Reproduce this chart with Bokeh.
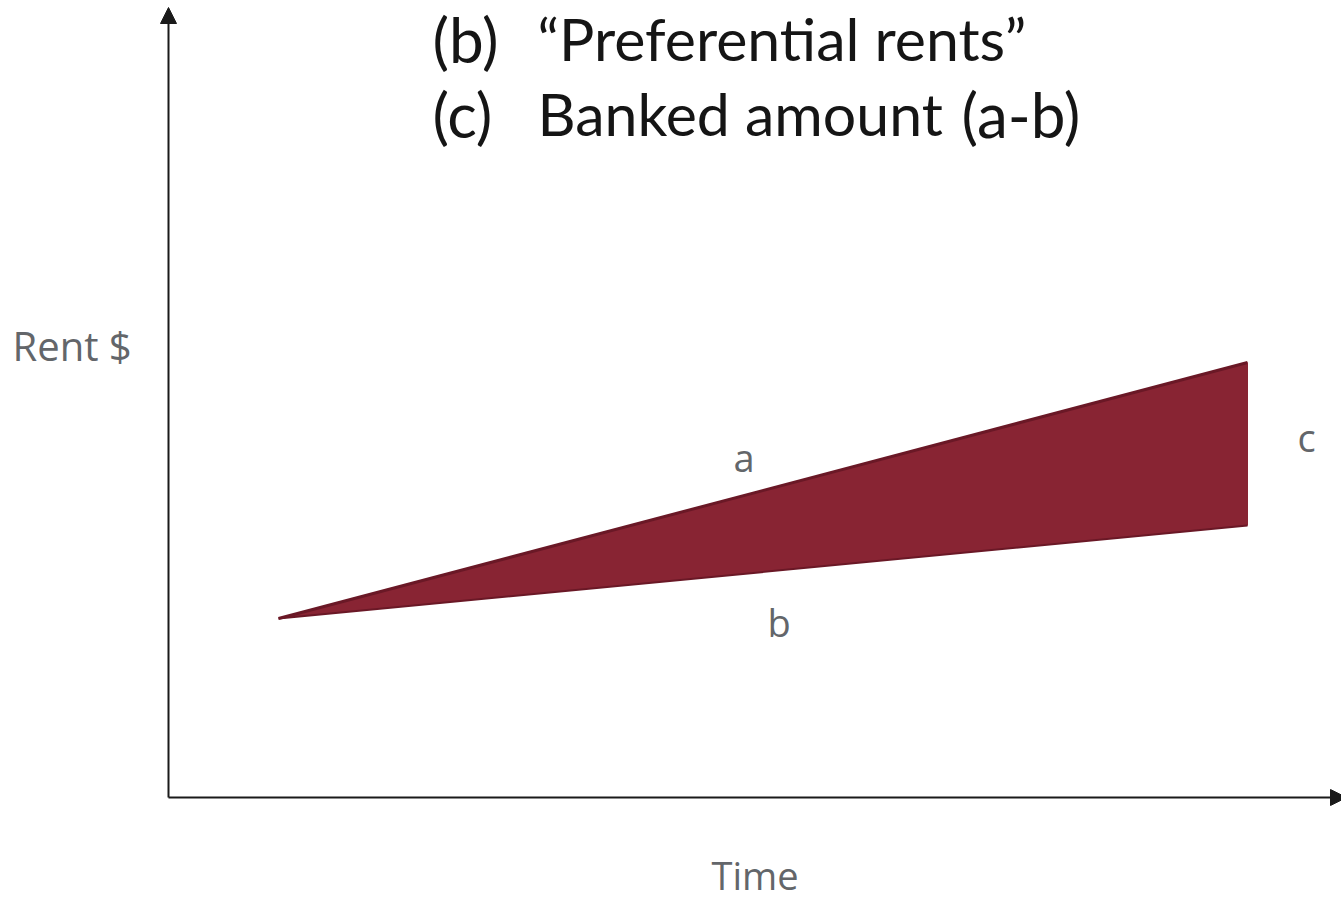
from bokeh.plotting import figure
from bokeh.models import Range1d, Arrow, NormalHead
from bokeh.core.properties import value
from bokeh.embed import file_html
from bokeh.resources import INLINE

# ---- data (abstract units: origin at the axes' crossing) ----
time = [1.10, 10.79]          # start and end of the period
rent_a = [1.79, 4.35]         # (a) market rent
rent_b = [1.79, 2.72]         # (b) preferential rent
axis_x_end = 11.78
axis_y_end = 7.90

title_marks = ["(b)", "(c)"]
title_texts = ["\u201cPreferential rents\u201d", "Banked amount"]
title_extra = "(a-b)"

x_label = "Time"
y_label = "Rent $"

# ---- figure ----
p = figure(width=1341, height=901, output_backend="svg", toolbar_location=None,
           x_range=Range1d(-1.68, 11.73), y_range=Range1d(-1.04, 7.97),
           min_border=0)
p.axis.visible = False
p.grid.visible = False
p.outline_line_color = None
p.background_fill_color = "white"
p.border_fill_color = "white"

# filled wedge between a and b
p.varea(x=time, y1=rent_b, y2=rent_a, fill_color="#882433")
p.line(x=time, y=rent_a, line_color="#6A1826", line_width=3)
p.line(x=time, y=rent_b, line_color="#6A1826", line_width=2)
p.line(x=[time[-1], time[-1]], y=[rent_b[-1], rent_a[-1]], line_color="#882433", line_width=1)

# axes with arrow heads
axis_col = "#1a1a1a"
p.add_layout(Arrow(end=NormalHead(size=16, fill_color=axis_col, line_color=axis_col),
                   x_start=0, y_start=0, x_end=0, y_end=axis_y_end,
                   line_color=axis_col, line_width=2))
p.add_layout(Arrow(end=NormalHead(size=16, fill_color=axis_col, line_color=axis_col),
                   x_start=0, y_start=0, x_end=axis_x_end, y_end=0,
                   line_color=axis_col, line_width=2))

gray = "#63666A"
lab_font = value("Open Sans")
p.text(x=[5.65], y=[3.41], text=["a"], text_font=lab_font, text_font_size="38px",
       text_color=gray, text_baseline="alphabetic")
p.text(x=[5.99], y=[1.76], text=["b"], text_font=lab_font, text_font_size="38px",
       text_color=gray, text_baseline="alphabetic")
p.text(x=[11.29], y=[3.61], text=["c"], text_font=lab_font, text_font_size="38px",
       text_color=gray, text_baseline="alphabetic")
p.text(x=[-1.56], y=[4.52], text=[y_label], text_font=lab_font, text_font_size="40px",
       text_color=gray, text_baseline="alphabetic")
p.text(x=[5.43], y=[-0.77], text=[x_label], text_font=lab_font, text_font_size="38px",
       text_color=gray, text_baseline="alphabetic")

# title lines
tfont = value("Lato")
tcol = "#151515"
p.text(x=[2.64, 2.64], y=[7.59, 6.84], text=title_marks, text_font=tfont,
       text_font_size="62px", text_color=tcol, text_baseline="alphabetic")
p.text(x=[3.69, 3.69], y=[7.59, 6.84], text=title_texts, text_font=tfont,
       text_font_size="59px", text_color=tcol, text_baseline="alphabetic")
p.text(x=[7.93], y=[6.84], text=[title_extra], text_font=tfont,
       text_font_size="62px", text_color=tcol, text_baseline="alphabetic")

open("out.html", "w").write(file_html(p, INLINE))
